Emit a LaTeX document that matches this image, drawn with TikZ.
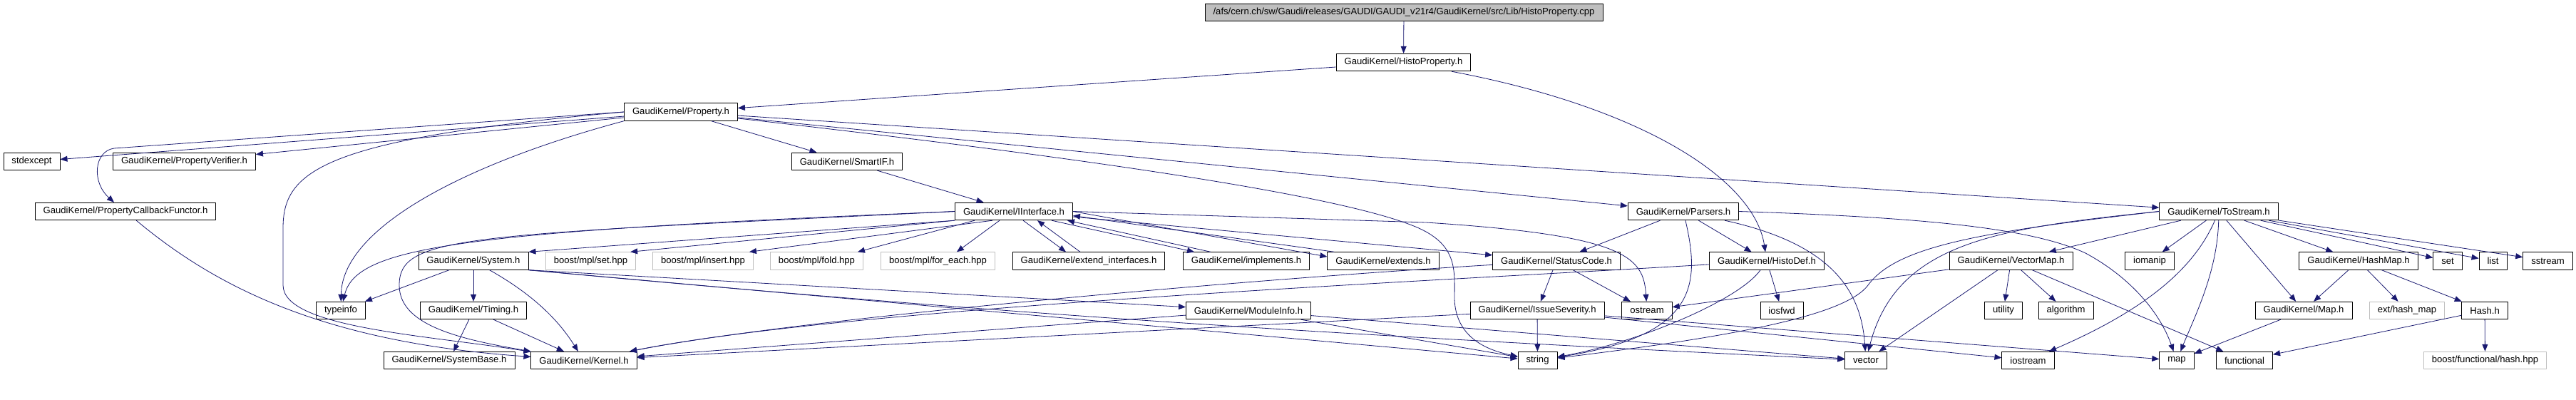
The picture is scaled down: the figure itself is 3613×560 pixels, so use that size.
\documentclass[tikz,border=0pt]{standalone}
\usepackage{fontspec}
\setmainfont{Liberation Sans}
\usetikzlibrary{arrows.meta}
\definecolor{edgeblue}{HTML}{191970}
\definecolor{lightgrey}{HTML}{BFBFBF}

\begin{document}
\begin{tikzpicture}[x=1pt,y=-1pt,line join=round,
	font=\fontsize{13.1}{15}\selectfont,
	hbox/.style={draw=black,line width=0.9pt,rectangle,inner xsep=11.5pt,inner ysep=0pt,minimum height=24.5pt},
	extfile/.style={hbox,draw=lightgrey},
	srcfile/.style={hbox,fill=lightgrey},
	inc/.style={draw=edgeblue,line width=0.8pt,-{Triangle[length=10pt,width=8pt]}}]
	\useasboundingbox (0,0) rectangle (3613,560);
	% Dateien
	\node[srcfile] (src) at (1969,17.5) {/afs/cern.ch/sw/Gaudi/releases/GAUDI/GAUDI\_v21r4/GaudiKernel/src/Lib/HistoProperty.cpp};
	\node[hbox] (hprop) at (1968.5,87.5) {GaudiKernel/HistoProperty.h};
	\node[hbox] (prop) at (955,157) {GaudiKernel/Property.h};
	\node[hbox] (stdexcept) at (44.5,226.5) {stdexcept};
	\node[hbox] (verif) at (258.5,226.5) {GaudiKernel/PropertyVerifier.h};
	\node[hbox] (smartif) at (1188,226.5) {GaudiKernel/SmartIF.h};
	\node[hbox] (callback) at (176,296.5) {GaudiKernel/PropertyCallbackFunctor.h};
	\node[hbox] (iif) at (1422,296.5) {GaudiKernel/IInterface.h};
	\node[hbox] (parsers) at (2361,296.5) {GaudiKernel/Parsers.h};
	\node[hbox] (tostream) at (3112,296.5) {GaudiKernel/ToStream.h};
	\node[hbox] (system) at (664,366) {GaudiKernel/System.h};
	\node[extfile] (mplset) at (828.5,366) {boost/mpl/set.hpp};
	\node[extfile] (mplinsert) at (986,366) {boost/mpl/insert.hpp};
	\node[extfile] (mplfold) at (1145.5,366) {boost/mpl/fold.hpp};
	\node[extfile] (mplforeach) at (1315.5,366) {boost/mpl/for\_each.hpp};
	\node[hbox] (extif) at (1527,366) {GaudiKernel/extend\_interfaces.h};
	\node[hbox] (implements) at (1748,366) {GaudiKernel/implements.h};
	\node[hbox] (extends) at (1940,366) {GaudiKernel/extends.h};
	\node[hbox] (status) at (2183,366) {GaudiKernel/StatusCode.h};
	\node[hbox] (histodef) at (2478,366) {GaudiKernel/HistoDef.h};
	\node[hbox] (vecmap) at (2820.5,366) {GaudiKernel/VectorMap.h};
	\node[hbox] (iomanip) at (3015,366) {iomanip};
	\node[hbox] (hashmap) at (3308,366) {GaudiKernel/HashMap.h};
	\node[hbox] (set) at (3433,366) {set};
	\node[hbox] (list) at (3496.5,366) {list};
	\node[hbox] (sstream) at (3573.5,366) {sstream};
	\node[hbox] (typeinfo) at (478,435.5) {typeinfo};
	\node[hbox] (timing) at (664,435.5) {GaudiKernel/Timing.h};
	\node[hbox] (modinfo) at (1751,435.5) {GaudiKernel/ModuleInfo.h};
	\node[hbox] (severity) at (2156,435.5) {GaudiKernel/IssueSeverity.h};
	\node[hbox] (ostream) at (2310,435.5) {ostream};
	\node[hbox] (iosfwd) at (2499,435.5) {iosfwd};
	\node[hbox] (utility) at (2810,435.5) {utility};
	\node[hbox] (algorithm) at (2897.5,435.5) {algorithm};
	\node[hbox] (gkmap) at (3231,435.5) {GaudiKernel/Map.h};
	\node[extfile] (hashext) at (3376,435.5) {ext/hash\_map};
	\node[hbox] (hash) at (3485,435.5) {Hash.h};
	\node[hbox] (sysbase) at (630,505.5) {GaudiKernel/SystemBase.h};
	\node[hbox] (kernel) at (819,505.5) {GaudiKernel/Kernel.h};
	\node[hbox] (string) at (2156.5,505.5) {string};
	\node[hbox] (vector) at (2617,505.5) {vector};
	\node[hbox] (iostream) at (2844.5,505.5) {iostream};
	\node[hbox] (map) at (3053,505.5) {map};
	\node[hbox] (functional) at (3148,505.5) {functional};
	\node[extfile] (boosthash) at (3485.5,505.5) {boost/functional/hash.hpp};
	% Abhaengigkeiten
	\draw[inc] (src) -- (hprop);
	\draw[inc] (hprop) -- (prop);
	\draw[inc] (hprop) .. controls (2300,150) and (2460,250) .. (histodef);
	\foreach \t in {stdexcept,verif,smartif,parsers,tostream} \draw[inc] (prop) -- (\t);
	\draw[inc] (prop.west) -- (160,208) .. controls (132,212) and (128,255) .. ([xshift=-16pt]callback.north);
	\draw[inc] (prop.south west) .. controls (650,230) and (480,320) .. (typeinfo);
	\draw[inc] (prop.west) .. controls (450,195) and (397,240) .. (397,320) -- (397,400) .. controls (397,460) and (600,470) .. (kernel);
	\draw[inc] (prop) .. controls (1600,230) and (1900,280) .. (1990,320) .. controls (2045,345) and (2040,380) .. (2040,420) .. controls (2042,470) and (2080,490) .. (string);
	\draw[inc] (callback) .. controls (300,400) and (450,480) .. (kernel);
	\draw[inc] (smartif) -- (iif);
	\draw[inc] (iif.south west) -- (system.north east);
	\draw[inc] (iif.south west) -- ([xshift=-8pt]mplset.north east);
	\draw[inc] ([xshift=-30pt]iif.south) -- ([xshift=-6pt]mplinsert.north east);
	\draw[inc] ([xshift=-55pt]iif.south) -- ([xshift=-8pt]mplfold.north east);
	\draw[inc] ([xshift=-20pt]iif.south) -- ([xshift=-54pt]mplforeach.north east);
	\draw[inc] (iif) -- (status);
	\draw[inc] ([xshift=13pt]iif.south) -- ([xshift=-32pt]extif.north);
	\draw[inc] ([xshift=-12pt]extif.north) -- ([xshift=33pt]iif.south);
	\draw[inc] ([xshift=53pt]iif.south) -- ([xshift=-73pt]implements.north);
	\draw[inc] ([xshift=-50pt]implements.north) -- ([xshift=-8pt]iif.south east);
	\draw[inc] (iif.east) -- ([yshift=6pt]extends.west);
	\draw[inc] ([xshift=10pt]extends.north west) -- ([yshift=-6pt]iif.east);
	\draw[inc] (iif.east) -- (2000,312) .. controls (2280,330) and (2305,360) .. (ostream);
	\draw[inc] (iif.west) .. controls (650,325) and (500,345) .. (typeinfo);
	\draw[inc] (iif.west) .. controls (650,330) and (560,330) .. (560,400) .. controls (560,455) and (640,475) .. (kernel);
	\foreach \t in {typeinfo,timing} \draw[inc] (system) -- (\t);
	\foreach \t in {modinfo,string} \draw[inc] (system.south east) -- (\t);
	\draw[inc] (system.south east) .. controls (1300,430) and (1700,462) .. (vector);
	\draw[inc] (system) .. controls (760,420) and (790,460) .. (kernel);
	\draw[inc] (timing) -- (sysbase);
	\draw[inc] (timing) -- (kernel);
	\foreach \t in {kernel,string,vector} \draw[inc] (modinfo) -- (\t);
	\foreach \t in {severity,ostream} \draw[inc] (status) -- (\t);
	\draw[inc] (status) .. controls (1700,395) and (1100,450) .. (kernel);
	\foreach \t in {string,kernel,map,iostream} \draw[inc] (severity) -- (\t);
	\draw[inc] (histodef) .. controls (2000,395) and (1200,430) .. (kernel);
	\draw[inc] (histodef) -- (iosfwd);
	\draw[inc] (histodef) .. controls (2440,420) and (2300,480) .. (string);
	\foreach \t in {status,histodef} \draw[inc] (parsers) -- (\t);
	\draw[inc] (parsers) .. controls (2385,400) and (2380,470) .. (string);
	\draw[inc] (parsers) .. controls (2560,340) and (2610,400) .. (vector);
	\draw[inc] (parsers.east) .. controls (2700,305) and (2850,320) .. (2925,355) .. controls (2990,390) and (3030,440) .. (map);
	\foreach \t in {vecmap,iomanip,hashmap,set,list,sstream,gkmap} \draw[inc] (tostream) -- (\t);
	\draw[inc] (tostream) .. controls (3110,380) and (3080,440) .. (map);
	\draw[inc] (tostream) .. controls (3080,370) and (3020,430) .. (iostream);
	\draw[inc] (tostream.west) .. controls (2800,320) and (2660,340) .. (vector);
	\draw[inc] (tostream.west) .. controls (2780,325) and (2660,345) .. (2620,400) .. controls (2590,440) and (2450,470) .. (string);
	\foreach \t in {utility,algorithm,vector,functional,ostream} \draw[inc] (vecmap) -- (\t);
	\foreach \t in {gkmap,hashext,hash} \draw[inc] (hashmap) -- (\t);
	\draw[inc] (gkmap) -- (map);
	\draw[inc] (hash) -- (functional);
	\draw[inc] (hash) -- (boosthash);
\end{tikzpicture}
\end{document}
